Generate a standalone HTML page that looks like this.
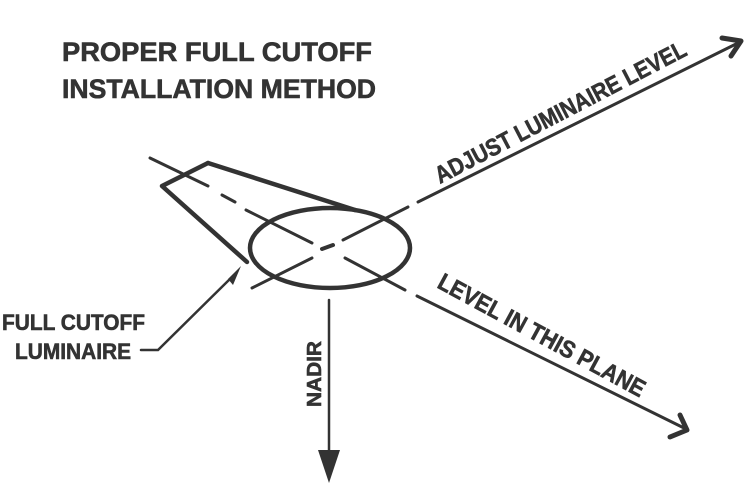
<!DOCTYPE html>
<html><head><style>html,body{margin:0;padding:0;background:#fff}svg{display:block}</style></head>
<body>
<svg width="756" height="494" viewBox="0 0 756 494" xmlns="http://www.w3.org/2000/svg">
<g fill="#333" stroke="#333" stroke-width="0.6" font-weight="bold" font-family="Liberation Sans, sans-serif">
<text x="62" y="61" font-size="27" textLength="310" lengthAdjust="spacingAndGlyphs">PROPER FULL CUTOFF</text>
<text x="62" y="98" font-size="27" textLength="314" lengthAdjust="spacingAndGlyphs">INSTALLATION METHOD</text>
<text x="2" y="330" font-size="22" textLength="143" lengthAdjust="spacingAndGlyphs">FULL CUTOFF</text>
<text x="15" y="359" font-size="22" textLength="116" lengthAdjust="spacingAndGlyphs">LUMINAIRE</text>
<text transform="translate(321,407) rotate(-90)" font-size="20" textLength="66" lengthAdjust="spacingAndGlyphs">NADIR</text>
<text transform="translate(440,184) rotate(-27.5)" font-size="24" textLength="280" lengthAdjust="spacingAndGlyphs">ADJUST LUMINAIRE LEVEL</text>
<text transform="translate(436,287) rotate(28.5)" font-size="24" textLength="232" lengthAdjust="spacingAndGlyphs">LEVEL IN THIS PLANE</text>
</g>
<g stroke="#333" fill="none" stroke-width="3" stroke-linecap="round">
<path d="M208,163 L162,186 L247,262" stroke-width="4.5" stroke-linejoin="round"/>
<path d="M208,163 L355,210" stroke-width="4.5"/>
<ellipse cx="330" cy="248" rx="80" ry="40" stroke-width="4.5"/>
<path d="M150,158 L208,186 M222,195 L235,202 M246,210 L312,243 M345,258 L405,290 M417,296 L684,428"/>
<path d="M252,288 L312,258 M343,240 L408,207 M418,202 L740,42"/>
<path d="M322,249 L333,245" stroke-width="4"/>
<path d="M722,38 L741,41 L731,56" stroke-width="5" stroke-linejoin="round"/>
<path d="M680,415 L687,430 L670,437" stroke-width="5" stroke-linejoin="round"/>
<path d="M329,300 L329,455" stroke-width="2.5"/>
<path d="M141,350 L158,350 L234,275" stroke-width="2.5"/>
</g>
<polygon points="318,450 340,450 329,483" fill="#333"/>
<polygon points="241,266 233,285 228,279" fill="#333"/>
</svg>
</body></html>
